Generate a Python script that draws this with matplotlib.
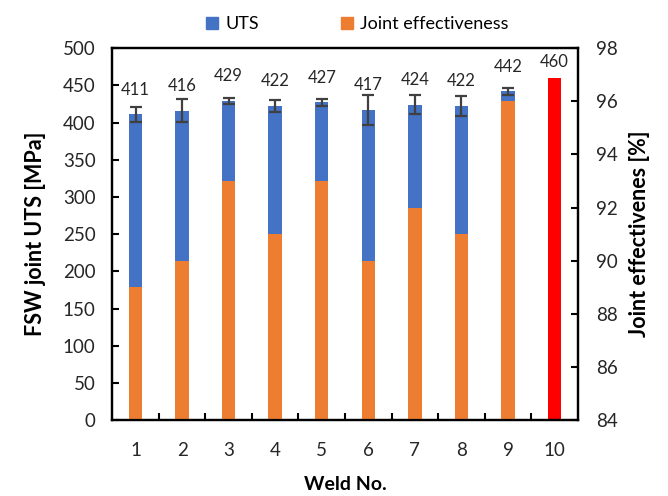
import matplotlib.pyplot as plt
import numpy as np

# data
welds = ['1', '2', '3', '4', '5', '6', '7', '8', '9', '10']
uts = [411, 416, 429, 422, 427, 417, 424, 422, 442]
uts_err = [10, 15, 4, 8, 5, 20, 13, 13, 5]
effectiveness = [89, 90, 93, 91, 93, 90, 92, 91, 96]
base_metal_uts = 460

plt.rcParams['font.family'] = ['Lato', 'DejaVu Sans']

fig = plt.figure(figsize=(6.68, 4.96), dpi=100)
ax = fig.add_axes([0.168, 0.153, 0.697, 0.750])
ax2 = ax.twinx()

x = np.arange(len(welds))
w = 0.29

# UTS bars (left axis) with error bars
ax.bar(x[:9], uts, width=w, color='#4472C4', zorder=2)
ax.errorbar(x[:9], uts, yerr=uts_err, fmt='none', ecolor='#404040',
            elinewidth=1.6, capsize=4.5, capthick=1.6, zorder=3)
# base metal bar
ax.bar(x[9], base_metal_uts, width=w, color='#FF0000', zorder=2)

# value labels above bars
for xi, v in zip(x, uts + [base_metal_uts]):
    off = 6 if v == base_metal_uts else 12
    ax.annotate(str(v), (xi, v), xytext=(0, off), textcoords='offset points',
                ha='center', va='bottom', fontsize=12, color='#262626')

# joint effectiveness (right axis), drawn on top of the UTS bars
ax2.bar(x[:9], effectiveness, width=w, color='#ED7D31', zorder=2)

ax.set_xlim(-0.5, 9.5)
ax.set_ylim(0, 500)
ax.set_yticks(np.arange(0, 501, 50))
ax2.set_ylim(84, 98)
ax2.set_yticks(np.arange(84, 99, 2))

ax.set_xticks(x)
ax.set_xticklabels(welds)
ax.set_xticks(np.arange(0.5, 9.5, 1), minor=True)
ax.tick_params(axis='x', which='major', length=0, pad=16, labelsize=13.5, colors='#262626')
ax.tick_params(axis='x', which='minor', direction='in', length=5, width=1.5)
ax.tick_params(axis='y', direction='in', length=5, width=1.5, labelsize=13.5,
               labelcolor='#262626', pad=12)
ax2.tick_params(axis='y', direction='in', length=5, width=1.5, labelsize=13.5,
                labelcolor='#262626', pad=13)

for a in (ax, ax2):
    for s in a.spines.values():
        s.set_linewidth(1.6)

ax.set_xlabel('Weld No.', fontsize=14, fontweight='bold', labelpad=12)
ax.set_ylabel('FSW joint UTS [MPa]', fontsize=15.5, fontweight='bold', labelpad=12)
ax2.set_ylabel('Joint effectivenes [%]', fontsize=15.5, fontweight='bold', labelpad=8)

h1 = plt.Rectangle((0, 0), 1, 1, color='#4472C4')
h2 = plt.Rectangle((0, 0), 1, 1, color='#ED7D31')
fig.legend([h1, h2], ['UTS', 'Joint effectiveness'], loc='upper center',
           bbox_to_anchor=(0.535, 1.0), ncol=2, frameon=False, fontsize=13,
           handlelength=0.7, handleheight=0.7, handletextpad=0.4, columnspacing=4.5)

fig.savefig('out.png', dpi=100)
